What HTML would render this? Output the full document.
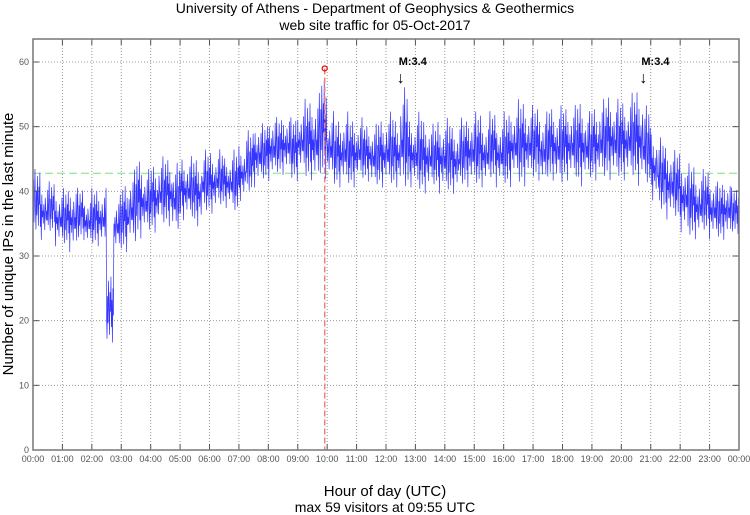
<!DOCTYPE html>
<html><head><meta charset="utf-8">
<style>
html,body{margin:0;padding:0;background:#fff;}
svg{display:block;font-family:"Liberation Sans",sans-serif;}
</style></head>
<body>
<svg id="chart" width="750" height="515" viewBox="0 0 750 515" xmlns="http://www.w3.org/2000/svg">
<text x="375" y="13" text-anchor="middle" font-size="14">University of Athens - Department of Geophysics &amp; Geothermics</text>
<text x="375" y="30" text-anchor="middle" font-size="14">web site traffic for 05-Oct-2017</text>
<g id="grid"></g>
<g id="series"></g>
<g id="axes"></g>
<text transform="translate(13,244) rotate(-90)" text-anchor="middle" font-size="15">Number of unique IPs in the last minute</text>
<text x="385" y="496" text-anchor="middle" font-size="15">Hour of day (UTC)</text>
<text x="385" y="512" text-anchor="middle" font-size="14">max 59 visitors at 09:55 UTC</text>
</svg>
<script>
// 15-minute bins (96 per day), one row per hour
const loVals = [
 33,32,33,31, 31,30,32,31, 31,31,16,30, 30,31,32,33,
 33,34,34,33, 35,35,34,36, 36,37,37,36, 38,39,40,41,
 41,42,42,41, 42,41,40,41, 41,40,40,40, 41,41,40,40,
 40,40,39,40, 39,39,40,39, 39,39,40,40, 40,40,41,40,
 40,41,40,41, 41,40,41,40, 41,41,40,41, 41,41,41,41,
 41,41,40,40, 38,36,35,35, 33,32,32,33, 32,32,32,33];
const hiVals = [
 44,42,42,41, 41,42,41,40, 41,41,28,40, 42,44,46,44,
 45,46,46,45, 46,46,46,47, 47,47,46,47, 48,50,52,51,
 53,52,53,52, 54,55,56,59, 53,52,53,52, 52,51,51,52,
 53,52,57,52, 53,52,51,52, 52,51,52,53, 53,52,53,52,
 53,54,55,54, 54,53,54,54, 54,54,55,53, 54,55,56,55,
 55,56,57,54, 50,49,48,47, 46,45,44,44, 43,42,43,41];
const maxValue = 59, maxHour = 9 + 55/60, avgValue = 42.8;
const markers = [{h:12.5, label:"M:3.4"},{h:20.75, label:"M:3.4"}];
const yTicks = [0,10,20,30,40,50,60];
const xTickLabels = ["00:00","01:00","02:00","03:00","04:00","05:00","06:00","07:00","08:00","09:00","10:00","11:00","12:00","13:00","14:00","15:00","16:00","17:00","18:00","19:00","20:00","21:00","22:00","23:00","00:00"];
const shape = [0.35,0.8,0.2,0.55,0.95,0.4,0.1,0.65,0.3,0.85,0.5,0.15,0.7,0.45,0.9,0.25,0.6,0.05,0.75,0.4,0.5,0.3,0.6,0.45,0.2,0.7,0.55,0.35,0.5];

const L=33,R=739,T=39,B=450;
const x = h => L + (R-L)*h/24;
const y = v => B - (B-62)*v/60;
const NS="http://www.w3.org/2000/svg";
function mk(tag, parent, attrs){const e=document.createElementNS(NS,tag);for(const k in attrs)e.setAttribute(k,attrs[k]);parent.appendChild(e);return e;}
const grid=document.getElementById('grid'), axes=document.getElementById('axes'), series=document.getElementById('series');

yTicks.forEach(v=>{
  if(v>0){const g=mk('line',grid,{x1:L,x2:R,y1:y(v),y2:y(v),stroke:'#999','stroke-dasharray':'1,2','stroke-width':1});
  
  }
  const t=mk('text',axes,{x:L-4,y:y(v)+3,'text-anchor':'end','font-size':9,fill:'#555'});
  t.textContent=v;
  
  
  mk('line',axes,{x1:L,x2:L+6,y1:y(v),y2:y(v),stroke:'#555','stroke-width':1});
  mk('line',axes,{x1:R-6,x2:R,y1:y(v),y2:y(v),stroke:'#555','stroke-width':1});
});
xTickLabels.forEach((lab,i)=>{
  const xx=x(i);
  if(i>0&&i<24){const g=mk('line',grid,{x1:xx,x2:xx,y1:T,y2:B,stroke:'#999','stroke-dasharray':'1,2','stroke-width':1});
  
  }
  mk('line',axes,{x1:xx,x2:xx,y1:B,y2:B-6,stroke:'#555'});
  mk('line',axes,{x1:xx,x2:xx,y1:T,y2:T+6,stroke:'#555'});
  const t=mk('text',axes,{x:xx,y:B+12,'text-anchor':'middle','font-size':9,fill:'#555'});
  t.textContent=lab;
  
  
});
const frame=mk('rect',axes,{x:L,y:T,width:R-L,height:B-T,fill:'none',stroke:'#777','stroke-width':1.5});



const avg=mk('line',series,{x1:L,x2:R,y1:y(avgValue),y2:y(avgValue),stroke:'#7de37d','stroke-dasharray':'8,4','stroke-width':1});



let pts=[];
for(let m=0;m<1440;m++){
  const b=Math.min(loVals.length-1,Math.floor(m/15));
  const v=loVals[b]+(hiVals[b]-loVals[b])*shape[m%shape.length];
  pts.push(x(m/60).toFixed(2)+','+y(v).toFixed(2));
}
const pl=mk('polyline',series,{points:pts.join(' '),fill:'none',stroke:'#1010ff','stroke-width':0.7,'stroke-opacity':0.85});



const mv=mk('line',series,{x1:x(maxHour),x2:x(maxHour),y1:y(maxValue),y2:B,stroke:'#f08080','stroke-dasharray':'6,3','stroke-width':1.5});


const mc=mk('circle',series,{cx:x(maxHour),cy:y(maxValue),r:2.5,fill:'none',stroke:'#e00','stroke-width':1.2});



markers.forEach(mr=>{
  const xx=x(mr.h);
  const t=mk('text',series,{x:xx-2,y:65,'font-size':11,'font-weight':'bold'});
  t.textContent=mr.label;
  
  
  const a=mk('text',series,{x:xx,y:83,'font-size':16,'text-anchor':'middle'});
  a.textContent='↓';
  
  
});
</script>
</body></html>
